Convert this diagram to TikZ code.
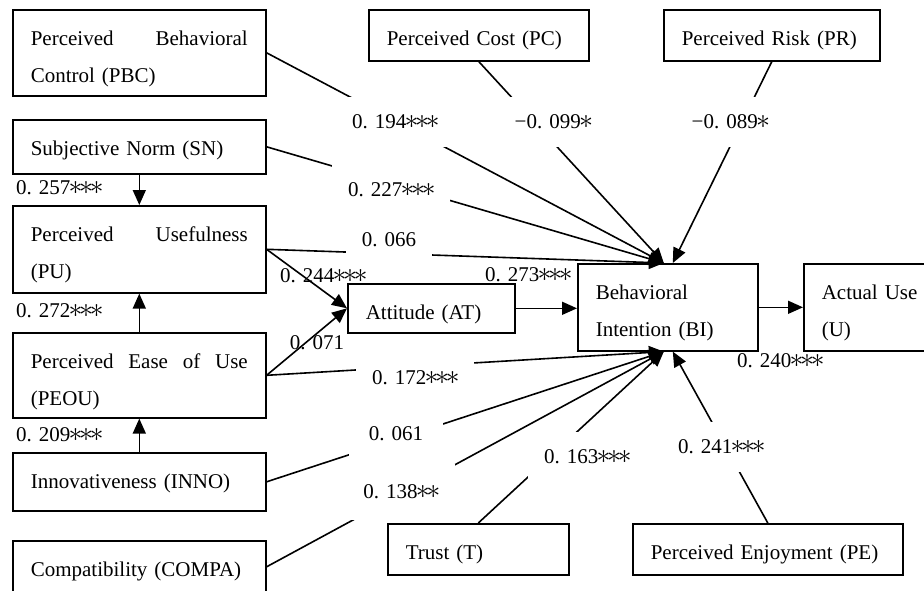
\documentclass[tikz,border=0pt]{standalone}
\usepackage{fontspec}
\usepackage{graphicx}
\setmainfont{Liberation Serif}
\usetikzlibrary{arrows.meta}
\newcommand\myst{\makebox[0.5em]{\raisebox{0.5pt}[0pt][0pt]{\scalebox{1.35}{$\ast$}}}}
\begin{document}
\begin{tikzpicture}[x=1pt,y=-1pt,
  every node/.style={font=\fontsize{21}{37.5}\selectfont},
  box/.style={draw, line width=1.6pt, rectangle, anchor=north west,
    inner xsep=18pt, inner ysep=0pt, align=left, text height=35.5pt},
  lab/.style={fill=white, inner xsep=16pt, inner ysep=0pt, minimum height=50pt},
  labn/.style={inner sep=0pt},
  arr/.style={line width=1.6pt, -{Triangle[length=15pt,width=13pt]}}]
\useasboundingbox (0,0) rectangle (924,590);
\clip (0,0) rectangle (924,590);
% boxes
\node[box, text width=217pt, text depth=50.5pt] (PBC) at (12,9) {Perceived\hfill Behavioral\\Control (PBC)};
\node[box, text width=217pt, text depth=18.5pt] (SN) at (12,119) {Subjective Norm (SN)};
\node[box, text width=217pt, text depth=51.5pt] (PU) at (12,205) {Perceived\hfill Usefulness\\(PU)};
\node[box, text width=217pt, text depth=49.5pt] (PEOU) at (12,332) {Perceived\hfill Ease\hfill of\hfill Use\\(PEOU)};
\node[box, text width=217pt, text depth=22.5pt] (INNO) at (12,452) {Innovativeness (INNO)};
\node[box, text width=217pt, text depth=16.5pt] (COMPA) at (12,540) {Compatibility (COMPA)};
\node[box, text width=184pt, text depth=15.5pt] (PC) at (368,9) {Perceived Cost (PC)};
\node[box, text width=180pt, text depth=15.5pt] (PR) at (663,9) {Perceived Risk (PR)};
\node[box, text width=131pt, text depth=13.5pt] (AT) at (347,283) {Attitude (AT)};
\node[box, text width=144pt, text depth=51.5pt] (BI) at (577,263) {Behavioral\\Intention (BI)};
\node[box, text width=144pt, text depth=51.5pt] (U) at (803,263) {Actual Use\\(U)};
\node[box, text width=145pt, text depth=15.5pt] (T) at (387,523) {Trust (T)};
\node[box, text width=234pt, text depth=15.5pt] (PE) at (632,523) {Perceived Enjoyment (PE)};
% arrow targets on BI
\coordinate (BIt) at ([xshift=-4pt]BI.north);
\coordinate (BIr) at ([xshift=5pt]BI.north);
\coordinate (BIb) at ([xshift=-4pt]BI.south);
\coordinate (BIs) at ([xshift=5pt]BI.south);
% connectors
\draw[arr] (PBC.east) -- (BIt);
\draw[arr] (PC.south) -- (BIt);
\draw[arr] (PR.south) -- (BIr);
\draw[arr] (SN.east) -- (BIt);
\draw[arr] (PU.east) -- (BIt);
\draw[arr] (PU.east) -- (AT.west);
\draw[arr] (PEOU.east) -- (AT.west);
\draw[arr] (PEOU.east) -- (BIb);
\draw[arr] (INNO.east) -- (BIb);
\draw[arr] (COMPA.east) -- (BIb);
\draw[arr] (T.north) -- (BIb);
\draw[arr] (PE.north) -- (BIs);
\draw[arr] (AT.east) -- (AT.east -| BI.west);
\draw[arr] (BI.east) -- (U.west);
\draw[arr] (SN.south) -- (PU.north);
\draw[arr] (PEOU.north) -- (PU.south);
\draw[arr] (INNO.north) -- (PEOU.south);
% labels
\node[labn] (l257) at (59,188) {0. 257\myst\myst\myst};
\node[labn] (l272) at (59,311) {0. 272\myst\myst\myst};
\node[labn] (l209) at (59,435) {0. 209\myst\myst\myst};
\node[lab] (l194) at (395,122) {0. 194\myst\myst\myst};
\node[lab] (l099) at (553,122) {−0. 099\myst};
\node[lab] (l089) at (730,122) {−0. 089\myst};
\node[lab] (l227) at (391,190) {0. 227\myst\myst\myst};
\node[lab] (l066) at (389,240) {0. 066};
\node[labn] (l244) at (323,276) {0. 244\myst\myst\myst};
\node[labn] (l273) at (528,275) {0. 273\myst\myst\myst};
\node[labn] (l071) at (317,343) {0. 071};
\node[labn] (l240) at (780,361) {0. 240\myst\myst\myst};
\node[lab] (l172) at (415,378) {0. 172\myst\myst\myst};
\node[lab, inner xsep=20pt] (l061) at (396,434) {0. 061};
\node[lab, minimum height=56pt] (l138) at (401,492) {0. 138\myst\myst};
\node[lab] (l163) at (587,457) {0. 163\myst\myst\myst};
\node[lab] (l241) at (721,447) {0. 241\myst\myst\myst};
\end{tikzpicture}
\end{document}
